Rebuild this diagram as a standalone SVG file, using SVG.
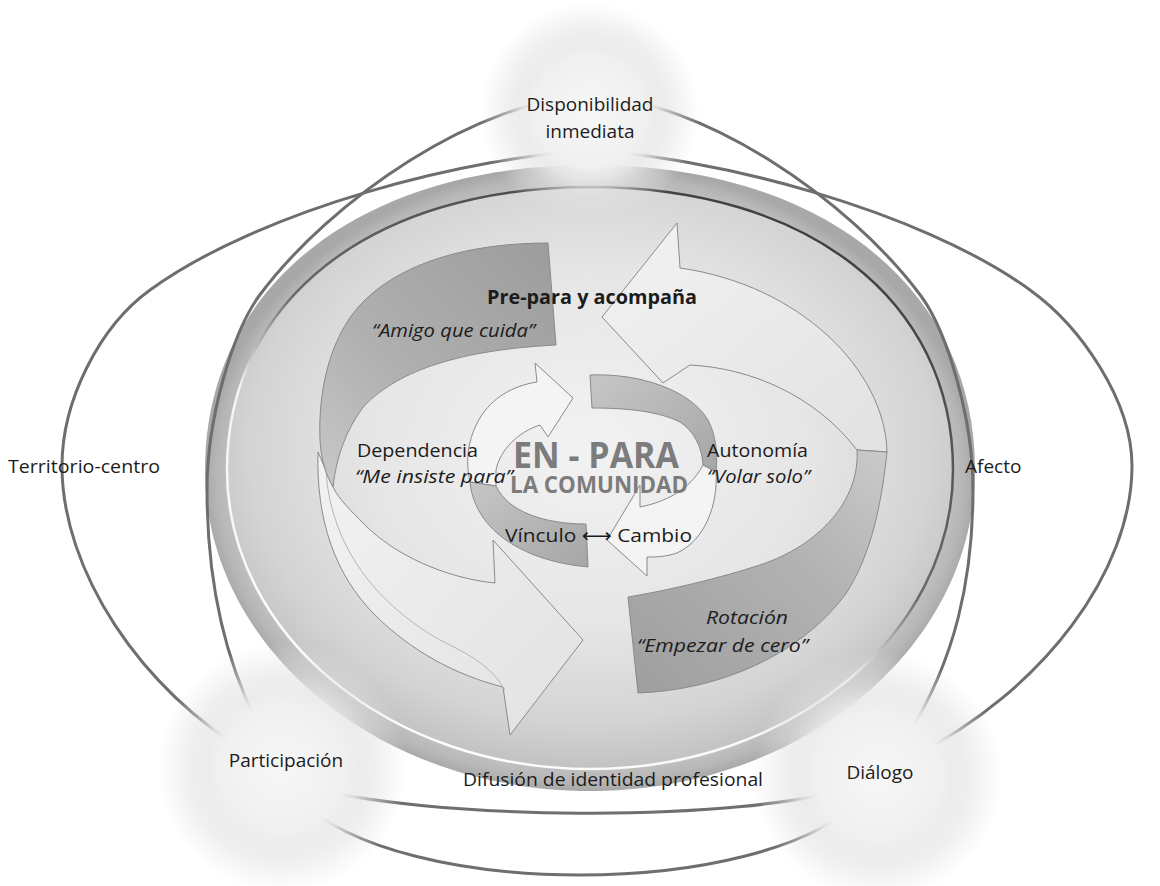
<svg xmlns="http://www.w3.org/2000/svg" width="1160" height="886" viewBox="0 0 1160 886">
<defs>
<style>
.ring{fill:none;stroke:#6e6e6e;stroke-width:3}
.t{font-family:"Open Sans","Noto Sans","DejaVu Sans",sans-serif;font-size:19px;fill:#1c1c1c}
.i{font-style:italic}
.b{font-weight:bold}
.edge{stroke:#8a8a8a;stroke-width:1;stroke-linejoin:round}
.fold{fill:none;stroke:#b4b4b4;stroke-width:1}
</style>
<radialGradient id="gDisc" cx="0.5" cy="0.5" r="0.5">
<stop offset="0" stop-color="#dcdcdc"/>
<stop offset="0.9" stop-color="#c8c8c8"/>
<stop offset="0.97" stop-color="#b6b6b6"/>
<stop offset="1" stop-color="#a8a8a8"/>
</radialGradient>
<radialGradient id="gInner" cx="0.5" cy="0.45" r="0.55">
<stop offset="0" stop-color="#f2f2f2"/>
<stop offset="0.55" stop-color="#e6e6e6"/>
<stop offset="0.85" stop-color="#d4d4d4"/>
<stop offset="1" stop-color="#c2c2c2"/>
</radialGradient>
<linearGradient id="gRimLine" x1="0.8" y1="0" x2="0.2" y2="1">
<stop offset="0" stop-color="#3a3a3a"/>
<stop offset="0.45" stop-color="#6a6a6a"/>
<stop offset="0.6" stop-color="#f4f4f4"/>
<stop offset="1" stop-color="#ffffff"/>
</linearGradient>
<radialGradient id="gGlow" cx="0.5" cy="0.5" r="0.5">
<stop offset="0" stop-color="#f7f7f7" stop-opacity="1"/>
<stop offset="0.5" stop-color="#f0f0f0" stop-opacity="1"/>
<stop offset="0.62" stop-color="#e9e9e9" stop-opacity="0.88"/>
<stop offset="0.78" stop-color="#e3e3e3" stop-opacity="0.5"/>
<stop offset="1" stop-color="#e6e6e6" stop-opacity="0"/>
</radialGradient>
<linearGradient id="gDark1" x1="1" y1="0" x2="0" y2="1">
<stop offset="0" stop-color="#9c9c9c"/>
<stop offset="0.6" stop-color="#b0b0b0"/>
<stop offset="1" stop-color="#c8c8c8"/>
</linearGradient>
<linearGradient id="gDark2" x1="0" y1="1" x2="1" y2="0">
<stop offset="0" stop-color="#9e9e9e"/>
<stop offset="0.6" stop-color="#b2b2b2"/>
<stop offset="1" stop-color="#cacaca"/>
</linearGradient>
<linearGradient id="gLight" x1="0" y1="0" x2="1" y2="1">
<stop offset="0" stop-color="#f2f2f2"/>
<stop offset="1" stop-color="#e2e2e2"/>
</linearGradient>
<linearGradient id="gSmallDark" x1="0" y1="0" x2="1" y2="1">
<stop offset="0" stop-color="#c6c6c6"/>
<stop offset="1" stop-color="#a6a6a6"/>
</linearGradient>
</defs>

<rect width="1160" height="886" fill="#ffffff"/>

<g id="disc">
<path d="M590,165 C359,165 205,287 205,470 C205,647 377,791 590,791 C802,791 975,647 975,470 C975,287 821,165 590,165 Z" fill="url(#gDisc)"/>
<path d="M590,187 C372,187 227,300 227,470 C227,635 390,769 590,769 C790,769 953,635 953,470 C953,300 808,187 590,187 Z" fill="url(#gInner)" stroke="url(#gRimLine)" stroke-width="2.5"/>
</g>

<g id="connectors">
<path class="ring" d="M590,97 C480,97 330,200 259,296 C232,333 207,420 207,489 C207,580 225,660 258,724"/>
<path class="ring" d="M590,97 C700,97 850,200 921,296 C948,333 973,420 973,489 C973,580 955,660 908,735"/>
<path class="ring" d="M600,150 C470,155 260,210 150,290 C100,326 62,400 62,466 C62,570 140,690 252,755"/>
<path class="ring" d="M580,150 C710,155 920,210 1030,290 C1080,326 1132,400 1132,466 C1132,570 1045,690 912,757"/>
<path class="ring" d="M300,785 C420,820 740,825 860,785"/>
<path class="ring" d="M300,800 C400,900 760,900 860,800"/>
</g>

<g id="arrow-prepara">
<path class="edge" fill="url(#gLight)" d="M318,452 C316,520 335,575 375,615 C410,650 455,675 503,687 L510,735 L583,640 L493,540 L495,583 C445,578 395,555 365,525 C350,510 338,498 333,487 Z"/>
<path class="fold" d="M326,470 C330,540 370,600 440,640 C470,655 490,665 505,690"/>
<path class="edge" fill="url(#gDark1)" d="M548,243 C470,243 400,262 360,305 C330,338 318,390 320,440 C321,460 326,475 333,487 C336,460 345,430 365,405 C400,370 460,350 556,345 Z"/>
</g>

<g id="arrow-rotacion">
<path class="edge" fill="url(#gLight)" d="M680,268 L677,223 L602,317 L663,383 L690,365 C750,368 815,395 857,450 L887,452 C885,370 800,285 680,268 Z"/>
<path class="edge" fill="url(#gDark2)" d="M857,450 C860,500 820,545 760,565 C720,578 670,590 628,597 L638,693 C720,690 800,655 845,595 C872,555 882,500 887,452 Z"/>
</g>

<g id="arrow-vinculo">
<path class="edge" fill="#f4f4f4" d="M537,382 L535,363 L573,398 L548,437 L540,425 C518,432 500,450 496,470 L496,486 L470,482 C465,460 468,438 480,418 C492,398 512,386 537,382 Z"/>
<path class="edge" fill="url(#gSmallDark)" d="M470,482 C474,525 515,560 588,567 L586,524 C545,524 508,512 496,486 Z"/>
</g>

<g id="arrow-cambio">
<path class="edge" fill="url(#gSmallDark)" d="M590,375 C640,373 690,390 708,420 C716,435 718,455 716,472 L703,465 C702,448 695,432 680,422 C660,412 630,408 592,408 Z"/>
<path class="edge" fill="#f4f4f4" d="M716,472 C718,505 705,540 677,553 C665,557 655,557 647,557 L647,576 L607,540 L640,485 L640,507 C665,502 690,490 703,465 Z"/>
</g>

<g id="node-disponibilidad">
<circle cx="590" cy="112" r="110" fill="url(#gGlow)"/>
<text class="t" x="590" y="111" text-anchor="middle">Disponibilidad</text>
<text class="t" x="590" y="138" text-anchor="middle">inmediata</text>
</g>
<g id="node-participacion">
<circle cx="282" cy="768" r="125" fill="url(#gGlow)"/>
<text class="t" x="286" y="767" text-anchor="middle">Participación</text>
</g>
<g id="node-dialogo">
<circle cx="878" cy="776" r="125" fill="url(#gGlow)"/>
<text class="t" x="880" y="779" text-anchor="middle">Diálogo</text>
</g>

<g id="label-territorio"><text class="t" x="8" y="473" textLength="152" lengthAdjust="spacingAndGlyphs">Territorio-centro</text></g>
<g id="label-afecto"><text class="t" x="965" y="473">Afecto</text></g>
<g id="label-difusion"><text class="t" x="463" y="786" textLength="300" lengthAdjust="spacingAndGlyphs">Difusión de identidad profesional</text></g>

<g id="center-labels">
<text class="t b" x="487" y="304" textLength="210" lengthAdjust="spacingAndGlyphs">Pre-para y acompaña</text>
<text class="t i" x="372" y="337" textLength="163" lengthAdjust="spacingAndGlyphs">“Amigo que cuida”</text>
<text class="t" x="357" y="457" textLength="121" lengthAdjust="spacingAndGlyphs">Dependencia</text>
<text class="t i" x="355" y="483" textLength="158" lengthAdjust="spacingAndGlyphs">“Me insiste para”</text>
<text class="t b" x="513" y="468" style="font-size:35px;fill:#7c7c7c" textLength="166" lengthAdjust="spacingAndGlyphs">EN - PARA</text>
<text class="t b" x="510" y="493" style="font-size:23px;fill:#7c7c7c" textLength="178" lengthAdjust="spacingAndGlyphs">LA COMUNIDAD</text>
<text class="t" x="707" y="457" textLength="101" lengthAdjust="spacingAndGlyphs">Autonomía</text>
<text class="t i" x="707" y="483" textLength="103" lengthAdjust="spacingAndGlyphs">“Volar solo”</text>
<text class="t" x="505" y="542" textLength="187" lengthAdjust="spacingAndGlyphs">Vínculo ⟷ Cambio</text>
<text class="t i" x="706" y="624" textLength="82" lengthAdjust="spacingAndGlyphs">Rotación</text>
<text class="t i" x="637" y="652" textLength="171" lengthAdjust="spacingAndGlyphs">“Empezar de cero”</text>
</g>
</svg>
